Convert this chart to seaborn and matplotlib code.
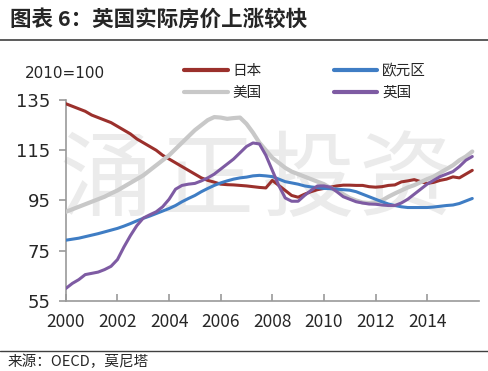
"""
plot.py

英国实际房价上涨较快 (2010=100).
"""

import numpy as np
import pandas as pd
import seaborn as sns
import matplotlib.pyplot as plt
from matplotlib.lines import Line2D


# quarterly, 2000Q1 .. 2015Q4
quarters = np.arange(2000, 2016, 0.25)

japan = [
    133.5, 132.5, 131.5, 130.5, 129.0, 128.0, 127.0, 126.0,
    124.5, 123.0, 121.5, 119.5, 118.0, 116.5, 115.0, 113.0,
    111.5, 110.0, 108.5, 107.0, 105.5, 104.0, 103.0, 102.3,
    101.5, 101.3, 101.2, 101.0, 100.8, 100.5, 100.2, 100.0,
    103.0, 101.0, 99.0, 97.0, 96.3, 97.5, 98.5, 99.3,
    99.8, 100.3, 100.8, 101.1, 101.1, 101.0, 101.0, 100.5,
    100.3, 100.5, 101.0, 101.2, 102.4, 102.8, 103.3, 102.5,
    101.8, 102.2, 103.0, 103.5, 104.4, 104.0, 105.5, 107.0,
]
usa = [
    90.5, 91.5, 92.5, 93.5, 94.5, 95.5, 96.5, 97.8,
    99.0, 100.5, 102.0, 103.5, 105.0, 107.0, 109.0, 111.0,
    113.0, 115.5, 118.0, 120.5, 123.0, 125.0, 127.0, 128.2,
    128.0, 127.5, 127.8, 128.0, 125.5, 122.0, 118.0, 115.0,
    112.0, 110.0, 108.0, 106.5, 105.5, 104.5, 103.5, 102.5,
    101.5, 100.0, 99.0, 97.5, 96.0, 95.0, 94.2, 94.0,
    94.3, 95.0, 96.5, 97.8, 99.0, 100.2, 101.1, 102.3,
    103.5, 104.5, 106.0, 107.5, 109.0, 111.0, 112.5, 114.5,
]
euro = [
    79.2, 79.6, 80.0, 80.6, 81.2, 81.8, 82.5, 83.2,
    83.9, 84.8, 85.8, 86.9, 87.9, 88.8, 89.8, 90.8,
    91.8, 93.0, 94.5, 95.8, 97.0, 98.5, 99.8, 101.0,
    102.0, 102.8, 103.5, 104.0, 104.3, 104.8, 105.0, 104.8,
    104.5, 103.5, 102.5, 102.0, 101.5, 100.8, 100.4, 100.1,
    99.8, 99.7, 99.5, 99.3, 99.1, 98.5, 97.5, 96.5,
    95.5, 94.5, 93.6, 93.0, 92.5, 92.2, 92.2, 92.2,
    92.2, 92.4, 92.7, 93.0, 93.2, 93.8, 94.8, 95.8,
]
uk = [
    60.0, 62.0, 63.5, 65.5, 66.0, 66.5, 67.5, 68.8,
    71.5, 76.5, 81.0, 85.0, 88.0, 89.3, 90.5, 92.5,
    95.5, 99.5, 101.0, 101.5, 101.8, 102.8, 104.0, 105.5,
    107.5, 109.5, 111.5, 114.0, 116.5, 117.9, 117.5, 113.0,
    107.0, 101.0, 96.0, 94.7, 94.7, 97.0, 99.0, 100.8,
    100.8, 100.3, 98.5, 96.5, 95.5, 94.5, 94.0, 93.6,
    93.5, 93.2, 93.0, 93.0, 94.0, 95.5, 97.5, 99.5,
    101.5, 103.0, 104.5, 105.5, 106.5, 108.5, 111.0, 112.5,
]

series_names = ["日本", "美国", "欧元区", "英国"]
series_colors = ["#9b302c", "#c8c8c8", "#3f7dc4", "#7e5ba3"]
series_widths = [2.2, 3.0, 2.2, 2.2]
x_ticks = [2000, 2002, 2004, 2006, 2008, 2010, 2012, 2014]
y_ticks = [55, 75, 95, 115, 135]


def main():
    sns.set_style("white")
    plt.rcParams["font.family"] = ["Noto Sans CJK SC", "DejaVu Sans"]

    df = pd.DataFrame({
        "date": np.tile(quarters, 4),
        "value": japan + usa + euro + uk,
        "series": np.repeat(series_names, len(quarters)),
    })

    fig = plt.figure(figsize=(4.88, 3.71), dpi=100)
    ax = fig.add_axes([0.135, 0.1887, 0.846, 0.5418])

    for name, color, lw in zip(series_names, series_colors, series_widths):
        sns.lineplot(
            data=df[df["series"] == name], x="date", y="value",
            color=color, linewidth=lw, ax=ax, legend=False, zorder=3,
        )

    ax.set_xlim(2000, 2016)
    ax.set_ylim(55, 135)
    ax.set_xticks(x_ticks)
    ax.set_yticks(y_ticks)
    ax.set_xlabel("")
    ax.set_ylabel("")
    for side in ["top", "right"]:
        ax.spines[side].set_visible(False)
    for side in ["left", "bottom"]:
        ax.spines[side].set_color("#999999")
        ax.spines[side].set_linewidth(1.2)
    ax.tick_params(axis="x", direction="in", length=5, width=1.2,
                   color="#999999", labelsize=12.5, pad=9)
    ax.tick_params(axis="y", direction="out", length=5, width=1.2,
                   color="#999999", labelsize=13, pad=6)
    ax.tick_params(left=True, bottom=True)
    for lab in ax.get_yticklabels():
        lab.set_fontfamily("DejaVu Sans")

    # watermark, kept just clear of the y tick labels
    for ch, xc in zip("涌正投资", [106, 207, 308, 405]):
        ax.text(xc / 488, 1 - 182 / 371, ch, transform=fig.transFigure,
                fontsize=67, fontweight="light", color="#ebebeb",
                ha="center", va="center", zorder=0)

    handles = [Line2D([], [], color=c, linewidth=3.0)
               for c in series_colors]
    ax.legend(handles, series_names, ncol=2, frameon=False, fontsize=10.5,
              loc="center left", bbox_to_anchor=(184 / 488, 1 - 82 / 371),
              bbox_transform=fig.transFigure, handlelength=3.0,
              handletextpad=0.35, columnspacing=4.9, labelspacing=0.55,
              borderaxespad=0, borderpad=0)

    fig.text(25 / 488, 1 - 73 / 371, "2010=100", fontsize=11,
             family="DejaVu Sans", ha="left", va="center")

    fig.text(10 / 488, 1 - 19 / 371, "图表 6：英国实际房价上涨较快",
             fontsize=15.5, fontweight="bold", ha="left", va="center")
    fig.add_artist(Line2D([0, 1], [1 - 40 / 371, 1 - 40 / 371],
                          color="#404040", linewidth=1.2))
    fig.add_artist(Line2D([0, 1], [1 - 351 / 371, 1 - 351 / 371],
                          color="#404040", linewidth=1.0))
    fig.text(8 / 488, 1 - 362 / 371, "来源：OECD，莫尼塔", fontsize=10.5,
             ha="left", va="center")

    fig.savefig("out.png", dpi=100)


if __name__ == "__main__":
    main()
